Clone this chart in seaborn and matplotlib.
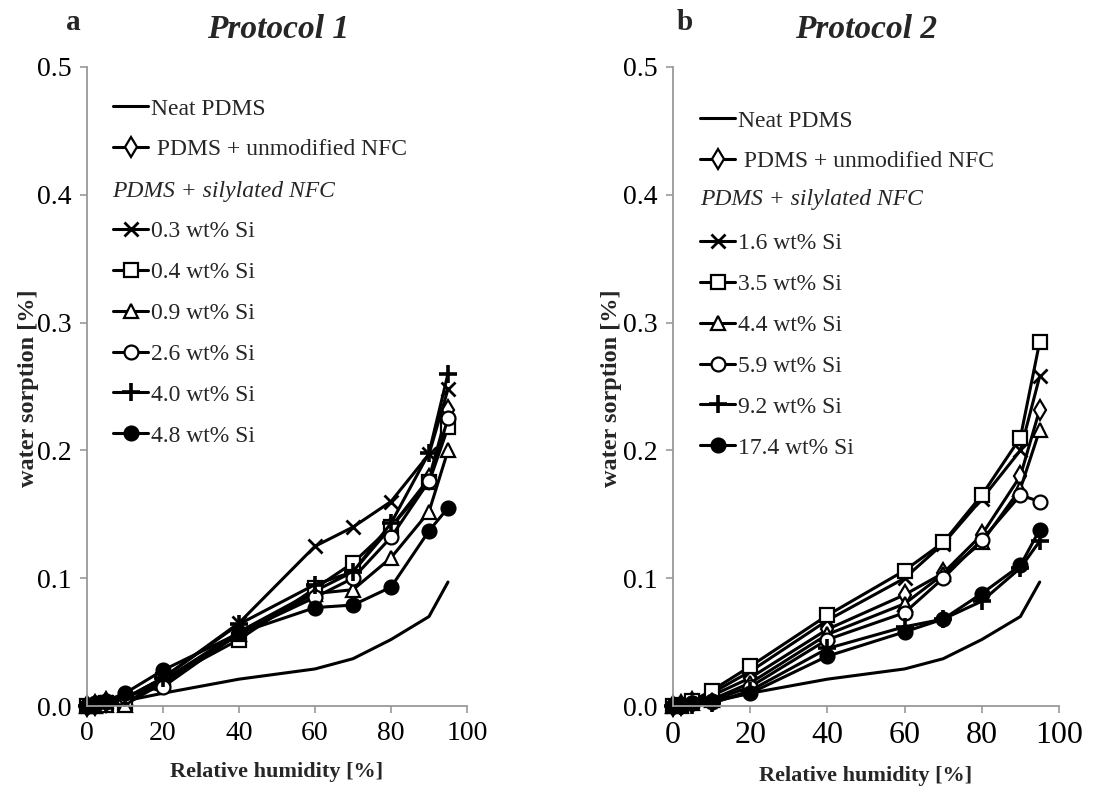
import matplotlib
matplotlib.use("Agg")
import matplotlib.pyplot as plt
import seaborn as sns
import pandas as pd
from matplotlib.lines import Line2D

# ---------------- data ----------------
rh = [0, 2, 5, 10, 20, 40, 60, 70, 80, 90, 95]
neat = [0, 0.0005, 0.002, 0.004, 0.010, 0.021, 0.029, 0.037, 0.052, 0.070, 0.097]

p1_labels = ["0.3 wt% Si", "0.4 wt% Si", "0.9 wt% Si", "2.6 wt% Si", "4.0 wt% Si", "4.8 wt% Si"]
p1_unmod = [0, 0.001, 0.003, 0.006, 0.020, 0.058, 0.090, 0.105, 0.140, 0.178, 0.232]
p1_03 = [0, 0.001, 0.003, 0.006, 0.022, 0.065, 0.125, 0.140, 0.160, 0.197, 0.248]
p1_04 = [0, 0.000, 0.002, 0.002, 0.020, 0.052, 0.092, 0.112, 0.140, 0.175, 0.218]
p1_09 = [0, 0.000, 0.001, 0.001, 0.018, 0.056, 0.088, 0.091, 0.116, 0.152, 0.200]
p1_26 = [0, 0.001, 0.003, 0.008, 0.015, 0.057, 0.085, 0.100, 0.132, 0.176, 0.225]
p1_40 = [0, 0.001, 0.003, 0.006, 0.022, 0.064, 0.095, 0.105, 0.143, 0.198, 0.260]
p1_48 = [0, 0.002, 0.004, 0.010, 0.028, 0.057, 0.077, 0.079, 0.093, 0.137, 0.155]

p2_labels = ["1.6 wt% Si", "3.5 wt% Si", "4.4 wt% Si", "5.9 wt% Si", "9.2 wt% Si", "17.4 wt% Si"]
p2_unmod = [0, 0.001, 0.003, 0.008, 0.022, 0.060, 0.087, 0.104, 0.134, 0.180, 0.232]
p2_16 = [0, 0.001, 0.004, 0.010, 0.027, 0.067, 0.100, 0.127, 0.162, 0.200, 0.258]
p2_35 = [0, 0.001, 0.004, 0.012, 0.031, 0.071, 0.106, 0.128, 0.165, 0.210, 0.285]
p2_44 = [0, 0.000, 0.002, 0.005, 0.018, 0.056, 0.080, 0.103, 0.128, 0.170, 0.216]
p2_59 = [0, 0.000, 0.002, 0.004, 0.015, 0.052, 0.073, 0.100, 0.130, 0.165, 0.160]
p2_92 = [0, 0.000, 0.001, 0.002, 0.012, 0.045, 0.062, 0.068, 0.082, 0.108, 0.129]
p2_174 = [0, 0.001, 0.002, 0.003, 0.010, 0.039, 0.058, 0.068, 0.088, 0.110, 0.138]

x_ticks = [0, 20, 40, 60, 80, 100]
y_ticks = [0.0, 0.1, 0.2, 0.3, 0.4, 0.5]

# ---------------- style ----------------
sns.set_theme(style="ticks")
plt.rcParams["font.family"] = ["Liberation Serif", "DejaVu Serif"]

W, H = 1117, 792
fig = plt.figure(figsize=(W / 100, H / 100), dpi=100)

def fx(px):
    return px / W

def fy(py):
    return 1 - py / H

GREY = "#999999"
marker_styles = [
    dict(marker="x", markersize=10, mew=2.0, mfc="black"),
    dict(marker="s", markersize=10, mew=1.6, mfc="white"),
    dict(marker="^", markersize=10, mew=1.6, mfc="white"),
    dict(marker="o", markersize=10, mew=1.6, mfc="white"),
    dict(marker="+", markersize=13, mew=2.6, mfc="black"),
    dict(marker="o", markersize=10, mew=1.6, mfc="black"),
]
unmod_style = dict(marker="d", markersize=10, mew=1.6, mfc="white")

def draw_panel(ax, series, unmod, labels, tick_x_size, tick_y_size):
    lw = 2.2
    sns.lineplot(x=rh, y=neat, ax=ax, color="black", lw=lw, label="Neat PDMS")
    sns.lineplot(x=rh, y=unmod, ax=ax, color="black", lw=lw, mec="black",
                 label=" PDMS + unmodified NFC", **unmod_style)
    for vals, lab, st in zip(series, labels, marker_styles):
        sns.lineplot(x=rh, y=vals, ax=ax, color="black", lw=lw, mec="black",
                     label=lab, **st)
    ax.set_xlim(0, 100)
    ax.set_ylim(0, 0.5)
    ax.set_xticks(x_ticks)
    ax.set_yticks(y_ticks)
    ax.set_yticklabels([f"{v:.1f}" for v in y_ticks])
    ax.set_xlabel("")
    ax.set_ylabel("")
    for s in ["top", "right"]:
        ax.spines[s].set_visible(False)
    for s in ["left", "bottom"]:
        ax.spines[s].set_color(GREY)
        ax.spines[s].set_linewidth(1.3)
    ax.tick_params(axis="both", direction="out", length=5, width=1.2, color=GREY)
    ax.tick_params(axis="x", labelsize=tick_x_size, pad=6)
    ax.tick_params(axis="y", labelsize=tick_y_size, pad=6)
    for t in ax.get_xticklabels() + ax.get_yticklabels():
        t.set_color("black")
    ax.get_legend().remove()
    for line in ax.get_lines():
        line.set_clip_on(False)

def add_legend(ax, labels, anchor_px, header_px):
    handles = [Line2D([], [], color="black", lw=2.2)]
    handles.append(Line2D([], [], color="black", lw=2.2, mec="black", **unmod_style))
    handles.append(Line2D([], [], linestyle="none"))
    names = ["Neat PDMS", " PDMS + unmodified NFC", " "]
    for lab, st in zip(labels, marker_styles):
        handles.append(Line2D([], [], color="black", lw=2.2, mec="black", **st))
        names.append(lab)
    leg = ax.legend(handles, names, loc="upper left",
                    bbox_to_anchor=(fx(anchor_px[0]), fy(anchor_px[1])),
                    bbox_transform=fig.transFigure, frameon=False,
                    fontsize=17, handlelength=1.5, handletextpad=0.1,
                    labelspacing=0.82, borderpad=0, borderaxespad=0)
    fig.text(fx(header_px[0]), fy(header_px[1]), "PDMS + silylated NFC",
             fontsize=17, style="italic", ha="left", va="center")
    return leg

# left panel
ax1 = fig.add_axes([fx(87), fy(706), fx(467) - fx(87), fy(67) - fy(706)])
draw_panel(ax1, [p1_03, p1_04, p1_09, p1_26, p1_40, p1_48], p1_unmod, p1_labels, 20, 20)
add_legend(ax1, p1_labels, (113, 98), (112, 192))

# right panel
ax2 = fig.add_axes([fx(673), fy(706), fx(1059) - fx(673), fy(67) - fy(706)])
draw_panel(ax2, [p2_16, p2_35, p2_44, p2_59, p2_92, p2_174], p2_unmod, p2_labels, 23, 20)
add_legend(ax2, p2_labels, (700, 110), (700, 199))

# titles, panel letters, axis labels
fig.text(fx(278), fy(30), "Protocol 1", fontsize=24, weight="bold", style="italic",
         ha="center", va="center")
fig.text(fx(866), fy(30), "Protocol 2", fontsize=24, weight="bold", style="italic",
         ha="center", va="center")
fig.text(fx(73), fy(22), "a", fontsize=21, weight="bold", ha="center", va="center")
fig.text(fx(685), fy(22), "b", fontsize=21, weight="bold", ha="center", va="center")

fig.text(fx(277), fy(772), "Relative humidity [%]", fontsize=16, weight="bold",
         ha="center", va="center")
fig.text(fx(866), fy(776), "Relative humidity [%]", fontsize=16, weight="bold",
         ha="center", va="center")
fig.text(fx(29), fy(388), "water sorption [%]", fontsize=17.5, weight="bold",
         rotation=90, ha="center", va="center")
fig.text(fx(612), fy(388), "water sorption [%]", fontsize=17.5, weight="bold",
         rotation=90, ha="center", va="center")

fig.savefig("out.png", dpi=100)
